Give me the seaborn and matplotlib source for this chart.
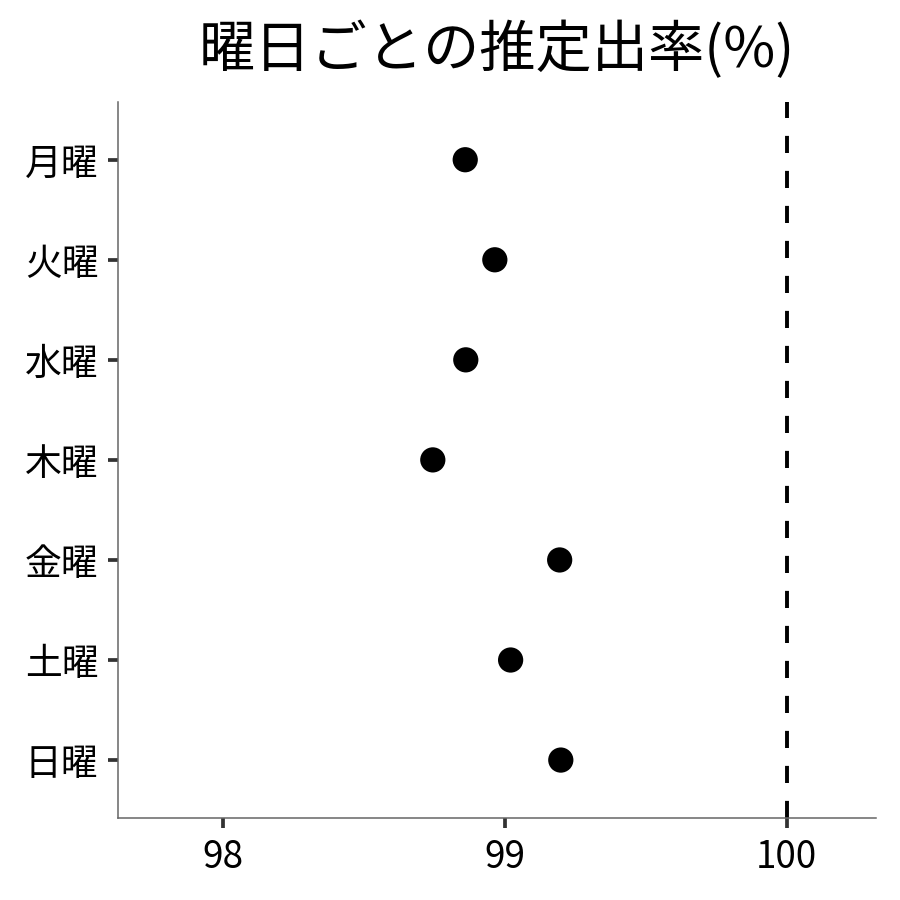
import pandas as pd
import numpy as np
import matplotlib
matplotlib.use("Agg")
import matplotlib.pyplot as plt
import seaborn as sns

sns.set_style("white")
plt.rcParams['font.family'] = ['Noto Sans CJK JP', 'DejaVu Sans']

# 曜日ごとの推定出率(%)
days = ["月曜", "火曜", "水曜", "木曜", "金曜", "土曜", "日曜"]
rates = [98.86, 98.965, 98.862, 98.745, 99.195, 99.021, 99.199]
xticks = [98, 99, 100]

df = pd.DataFrame({"day": days, "rate": rates})

fig, ax = plt.subplots(figsize=(9, 9), dpi=100)
fig.subplots_adjust(left=0.131, right=0.973, top=0.887, bottom=0.091)

sns.scatterplot(data=df, x="rate", y="day", color="black", s=330,
                edgecolor="none", ax=ax, zorder=3)
ax.axvline(100, color="black", lw=2.8, ls=(0, (4.4, 4.6)), zorder=2)

ax.set_xlim(97.628, 100.316)
ax.set_ylim(6.58, -0.58)
ax.set_xticks(xticks)
ax.set_xticklabels([str(t) for t in xticks])
ax.set_xlabel("")
ax.set_ylabel("")
ax.set_title("曜日ごとの推定出率(%)", fontsize=40.5, pad=25, color="black")

ax.tick_params(axis="both", labelsize=26.5, length=7.5, width=2.7,
               color="#333333", labelcolor="black", pad=6.5)
ax.tick_params(left=True, bottom=True)
for s in ["top", "right"]:
    ax.spines[s].set_visible(False)
for s in ["left", "bottom"]:
    ax.spines[s].set_color("#666666")
    ax.spines[s].set_linewidth(1.1)

plt.savefig("out.png", dpi=100)
